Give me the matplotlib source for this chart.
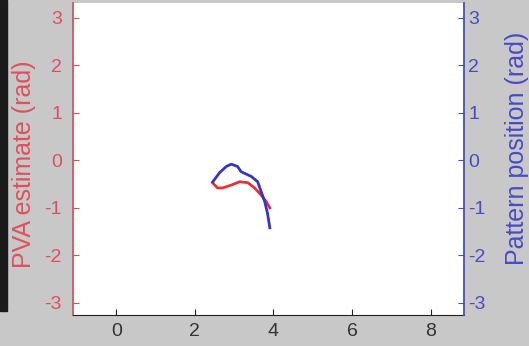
import numpy as np
import matplotlib.pyplot as plt
from matplotlib.patches import Rectangle

# Data
# -------------------------------------------------------------
pva_x = [2.45, 2.58, 2.71, 2.93, 3.14, 3.35, 3.52, 3.69, 3.82, 3.91]
pva_y = [-0.47, -0.58, -0.58, -0.52, -0.45, -0.47, -0.58, -0.73, -0.87, -1.00]

pat_x = [2.46, 2.63, 2.80, 2.93, 3.09, 3.18, 3.44, 3.60, 3.69, 3.78, 3.85, 3.91]
pat_y = [-0.45, -0.26, -0.13, -0.08, -0.13, -0.24, -0.34, -0.45, -0.66, -0.87, -1.11, -1.42]

x_ticks = [0, 2, 4, 6, 8]
y_ticks = [-3, -2, -1, 0, 1, 2, 3]
# -------------------------------------------------------------

red = '#e8303a'
blue = '#3535c8'
red_ax = '#e0505a'
blue_ax = '#4a4ac8'

plt.rcParams['font.family'] = ['Liberation Sans', 'DejaVu Sans']
plt.rcParams['axes.unicode_minus'] = False

fig = plt.figure(figsize=(5.29, 3.46), dpi=100)
fig.patch.set_facecolor('#c8c8c8')

# black bar at the left edge
fig.patches.append(Rectangle((0, 0.10), 0.013, 0.90, transform=fig.transFigure,
                             color='#1a1a1a', zorder=0))

ax = fig.add_axes([0.138, 0.09, 0.739, 0.90])
ax.set_facecolor('white')
ax2 = ax.twinx()

ax.plot(pva_x, pva_y, color=red, lw=2.0, zorder=3)
ax2.plot(pat_x, pat_y, color=blue, lw=2.0, zorder=2)

for a in (ax, ax2):
    a.set_xlim(-1.1, 8.85)
    a.set_ylim(-3.25, 3.3)
    a.set_yticks(y_ticks)
    a.spines['top'].set_visible(False)

ax.set_xticks(x_ticks)
ax.tick_params(axis='x', direction='in', length=4, labelsize=14, pad=6,
               color='#222222', labelcolor='#333333')
ax.tick_params(axis='y', direction='in', length=4, labelsize=14, pad=8,
               colors=red_ax)
ax2.tick_params(axis='y', direction='in', length=4, labelsize=14, pad=3,
                colors=blue_ax)

ax.spines['left'].set_color(red_ax)
ax.spines['left'].set_linewidth(1.3)
ax.spines['right'].set_visible(False)
ax2.spines['left'].set_visible(False)
ax2.spines['right'].set_color(blue_ax)
ax2.spines['right'].set_linewidth(1.3)
ax.spines['bottom'].set_color('#222222')
ax2.spines['bottom'].set_visible(False)

ax.set_ylabel('PVA estimate (rad)', fontsize=18, color=red_ax, va='center', ha='center')
ax.yaxis.set_label_coords(-0.125, 0.485)
ax2.set_ylabel('Pattern position (rad)', fontsize=18, color=blue_ax, va='center', ha='center')
ax2.yaxis.set_label_coords(1.135, 0.535)

plt.savefig('out.png', dpi=100, facecolor=fig.get_facecolor())
